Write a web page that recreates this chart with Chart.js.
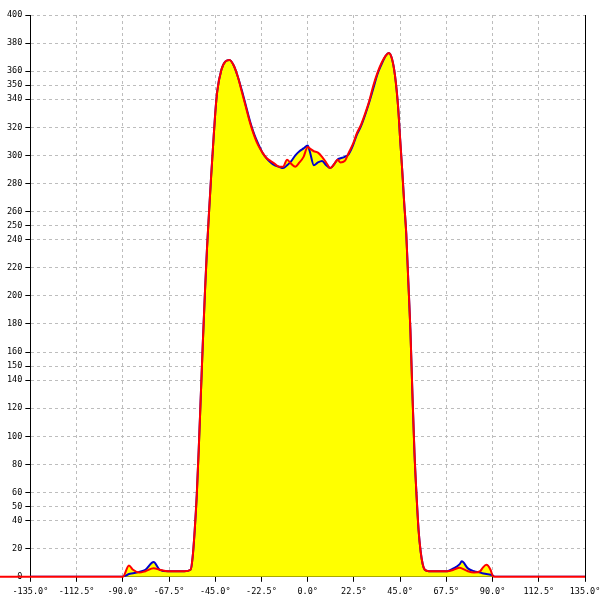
<!DOCTYPE html>
<html>
<head>
<meta charset="utf-8">
<script src="https://cdn.jsdelivr.net/npm/chart.js@4/dist/chart.umd.min.js"></script>
<style>
  body { margin: 0; background: #fff; }
</style>
</head>
<body>
<canvas id="chart" width="600" height="600"></canvas>
<script>
// angle (degrees) shared by both curves
const angles = [-150, -135, -90, -87, -85, -82, -79, -75, -72, -68, -64, -60, -57, -56, -55, -54, -53, -52, -51, -50,
  -49, -48, -47, -46, -45, -44, -42, -40, -38, -36, -34, -32, -30, -28, -26, -24, -22, -20, -18, -16,
  -14, -12, -10, -8, -6, -4, -2, 0, 1, 3, 5, 7, 9, 11, 13, 14.5, 16, 18, 20, 22,
  24, 26, 28, 30, 32, 34, 36, 38, 39.5, 41, 42.5, 44, 45, 46, 47, 48, 49, 50, 51, 52,
  53, 54, 55, 56, 57, 59, 64, 68, 71, 74, 75, 78, 81, 84, 85, 87, 89, 90, 91, 135, 150];

const blueValues = [0, 0, 0, 2, 2.5, 3.5, 5, 10.5, 5, 4, 4, 4, 5, 14, 33, 58, 92, 130, 168, 203,
  234, 260, 285, 308, 330, 346, 361, 367, 368, 364, 356, 346, 335, 324, 315, 308, 302, 298, 295, 293,
  292, 291, 293, 296, 300, 303, 305, 307, 303, 293, 295, 296, 293, 291, 294, 297, 298, 299, 301, 307,
  315, 321, 329, 338, 348, 358, 365, 371, 373, 369, 357, 335, 312, 290, 266, 244, 210, 176, 130, 88,
  58, 33, 18, 9, 5, 4, 4, 4, 6, 9, 11, 6, 4, 3, 2.5, 2, 1.5, 1, 0, 0, 0];

const redValues = [0, 0, 0, 8, 5, 3, 4, 6, 5, 4, 4, 4, 5, 14, 33, 58, 92, 130, 168, 203,
  234, 260, 285, 308, 330, 346, 361, 367, 368, 364, 356, 345, 334, 323, 314, 307, 302, 298, 296, 294,
  292, 292, 297, 294, 292, 295, 299, 306, 305, 303, 302, 299, 295, 291, 294, 297, 295, 296, 302, 308,
  316, 322, 330, 339, 350, 359, 366, 371, 373, 369, 357, 335, 312, 290, 266, 244, 210, 176, 130, 88,
  58, 33, 18, 9, 5, 4, 4, 4, 5, 6.5, 6, 4, 3, 4, 6, 8.5, 5, 1, 0, 0, 0];

const xTicks = [-135, -112.5, -90, -67.5, -45, -22.5, 0, 22.5, 45, 67.5, 90, 112.5, 135];
const yTicks = [0, 20, 40, 50, 60, 80, 100, 120, 140, 150, 160, 180, 200, 220, 240, 250, 260,
  280, 300, 320, 340, 350, 360, 380, 400];

function toPoints(values) {
  return angles.map((a, i) => ({ x: a, y: values[i] }));
}

const tickFont = { family: 'DejaVu Sans Mono', size: 8.5 };
const gridColor = '#bdbdbd';

new Chart(document.getElementById('chart'), {
  type: 'line',
  data: {
    datasets: [
      {
        label: 'red',
        data: toPoints(redValues),
        borderColor: '#ff0000',
        backgroundColor: '#ffff00',
        borderWidth: 2,
        pointRadius: 0,
        fill: 'origin',
        tension: 0.3,
        cubicInterpolationMode: 'monotone',
        clip: false
      },
      {
        label: 'blue',
        data: toPoints(blueValues),
        borderColor: '#0000cc',
        backgroundColor: '#ffff00',
        borderWidth: 2,
        pointRadius: 0,
        fill: 'origin',
        tension: 0.3,
        cubicInterpolationMode: 'monotone'
      }
    ]
  },
  options: {
    responsive: false,
    animation: false,
    layout: { padding: { left: 4, right: 0, top: 15, bottom: 1 } },
    plugins: {
      legend: { display: false },
      tooltip: { enabled: false },
      filler: { drawTime: 'beforeDatasetsDraw' }
    },
    scales: {
      x: {
        type: 'linear',
        min: -135,
        max: 135,
        afterBuildTicks: axis => { axis.ticks = xTicks.map(v => ({ value: v })); },
        // let the last label run a little past the plot edge, as in the original
        afterFit: axis => {
          axis.paddingRight = 15;
          axis.height -= 3;
        },
        ticks: {
          color: '#000',
          font: tickFont,
          padding: 5,
          maxRotation: 0,
          callback: v => v.toFixed(1) + '°'
        },
        grid: { color: gridColor, tickColor: '#000', tickLength: 5, tickBorderDash: [] },
        border: { color: '#000', width: 1, dash: [3, 3] }
      },
      y: {
        min: 0,
        max: 400,
        afterBuildTicks: axis => { axis.ticks = yTicks.map(v => ({ value: v })); },
        ticks: { color: '#000', font: tickFont, padding: 3 },
        grid: { color: gridColor, tickColor: '#000', tickLength: 5, tickBorderDash: [] },
        border: { color: '#000', width: 1, dash: [3, 3] }
      },
      yRight: {
        position: 'right',
        min: 0,
        max: 400,
        ticks: { display: false },
        grid: { display: false, drawTicks: false },
        border: { color: '#000', width: 1 }
      }
    }
  }
});
</script>
</body>
</html>
